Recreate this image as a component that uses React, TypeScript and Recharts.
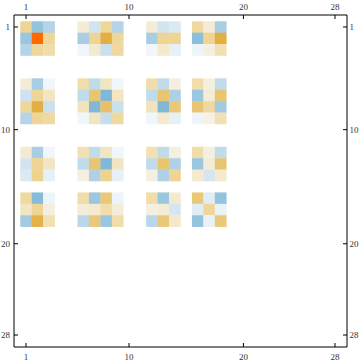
import { ScatterChart, Scatter, XAxis, YAxis } from "recharts";

// matrix rows / columns that hold values (1-based, as on the axes)
const ROW_INDEX = [1, 2, 3, 6, 7, 8, 9, 12, 13, 14, 16, 17, 18];
const COL_INDEX = [1, 2, 3, 6, 7, 8, 9, 12, 13, 14, 16, 17, 18];
const TICKS = [1, 10, 20, 28];

// values, one list per block row
const ROWS_A = [
  [0.3, -0.45, -0.3, 0.1, -0.15, 0.27, -0.3, 0.1, -0.15, -0.12, 0.25, 0.1, -0.35],
  [-0.42, 1.0, 0.27, -0.35, 0.3, 0.55, 0.27, -0.35, 0.3, 0.3, -0.5, 0.3, 0.55],
  [-0.3, 0.27, 0.22, -0.04, 0.13, -0.2, 0.25, -0.04, 0.13, -0.08, -0.05, 0.08, 0.2],
];
const ROWS_B = [
  [0.1, -0.35, -0.04, 0.22, -0.25, 0.15, -0.04, 0.22, -0.25, 0.08, 0.22, 0.08, -0.25],
  [-0.17, 0.28, 0.15, -0.25, 0.42, -0.55, 0.15, -0.25, 0.42, -0.33, -0.42, 0.1, 0.42],
  [0.27, 0.55, -0.2, 0.17, -0.55, 0.45, -0.2, 0.17, -0.55, 0.4, 0.42, 0.25, -0.38],
  [-0.3, 0.28, 0.25, -0.04, 0.15, -0.22, 0.25, -0.04, 0.12, -0.08, -0.05, 0.07, 0.2],
];
const ROWS_C = [
  [0.12, -0.35, -0.04, 0.2, -0.25, 0.15, -0.04, 0.2, -0.25, 0.08, 0.22, 0.08, -0.25],
  [-0.15, 0.3, 0.15, -0.25, 0.42, -0.55, 0.15, -0.25, 0.42, -0.32, -0.42, 0.1, 0.42],
  [-0.12, 0.32, -0.08, 0.08, -0.32, 0.32, -0.08, 0.08, -0.32, 0.3, 0.12, -0.14, 0.12],
];
const ROWS_D = [
  [0.25, -0.52, -0.05, 0.22, -0.42, 0.4, -0.05, 0.22, -0.42, 0.12, 0.4, -0.1, -0.45],
  [0.15, 0.3, 0.08, 0.1, 0.12, 0.22, 0.1, 0.08, 0.1, -0.14, -0.1, 0.27, -0.07],
  [-0.38, 0.53, 0.2, -0.28, 0.4, -0.42, 0.22, -0.28, 0.4, 0.13, -0.45, -0.07, 0.4],
];

const POS_STOPS: [number, string][] = [
  [0, "#ffffff"], [0.08, "#f4efe0"], [0.15, "#f2e6c2"], [0.25, "#efd9a0"],
  [0.32, "#edd390"], [0.42, "#e8c572"], [0.55, "#e3ae42"], [1, "#ff6a00"],
];
const NEG_STOPS: [number, string][] = [
  [0, "#ffffff"], [0.04, "#f0f6fb"], [0.08, "#e6f0f7"], [0.15, "#d2e4f0"],
  [0.25, "#c0dbea"], [0.35, "#a9cde3"], [0.45, "#94c3dd"], [0.55, "#82b8d6"],
];

function hex(c: string) {
  return [1, 3, 5].map((i) => parseInt(c.slice(i, i + 2), 16));
}
function colorOf(v: number) {
  const stops = v >= 0 ? POS_STOPS : NEG_STOPS;
  const a = Math.abs(v);
  for (let i = 1; i < stops.length; i++) {
    if (a <= stops[i][0] || i === stops.length - 1) {
      const [t0, c0] = stops[i - 1];
      const [t1, c1] = stops[i];
      const t = Math.min(1, Math.max(0, (a - t0) / (t1 - t0)));
      const p = hex(c0), q = hex(c1);
      return `rgb(${p.map((x, k) => Math.round(x + (q[k] - x) * t)).join(",")})`;
    }
  }
  return "#fff";
}

const ALL_ROWS = [...ROWS_A, ...ROWS_B, ...ROWS_C, ...ROWS_D];
const data = ALL_ROWS.flatMap((vals, r) =>
  vals.map((v, c) => ({ col: COL_INDEX[c], row: ROW_INDEX[r], v }))
);

const W = 360, H = 363;
const LEFT = 14, RIGHT = 13, TOP = 15, BOTTOM = 16;
const PAD = 0.55;
const DOMAIN: [number, number] = [0.5 - PAD, 28.5 + PAD];
const CELL_W = (W - LEFT - RIGHT) / (DOMAIN[1] - DOMAIN[0]);
const CELL_H = (H - TOP - BOTTOM) / (DOMAIN[1] - DOMAIN[0]);

const FONT = { fontFamily: "Liberation Serif, serif", fontSize: 9, fill: "#333" };

const Cell = (p: any) => (
  <rect x={p.cx - CELL_W / 2} y={p.cy - CELL_H / 2} width={CELL_W + 0.3} height={CELL_H + 0.3}
    fill={colorOf(p.payload.v)} />
);

const tick = (side: "top" | "bottom" | "left" | "right") => (p: any) => {
  const { x, y } = p;
  const v = p.payload.value;
  if (side === "top")
    return <g><line x1={x} x2={x} y1={y} y2={y + 4} stroke="#000" />
      <text x={x} y={y - 5.5} textAnchor="middle" {...FONT}>{v}</text></g>;
  if (side === "bottom")
    return <g><line x1={x} x2={x} y1={y} y2={y - 4} stroke="#000" />
      <text x={x} y={y + 13} textAnchor="middle" {...FONT}>{v}</text></g>;
  if (side === "left")
    return <g><line x1={x} x2={x + 4} y1={y} y2={y} stroke="#000" />
      <text x={x - 4} y={y + 3} textAnchor="end" {...FONT}>{v}</text></g>;
  return <g><line x1={x} x2={x - 4} y1={y} y2={y} stroke="#000" />
    <text x={x + 2.5} y={y + 3} textAnchor="start" {...FONT}>{v}</text></g>;
};

export default function App() {
  const axisProps = {
    type: "number" as const, domain: DOMAIN, ticks: TICKS, interval: 0 as const,
    allowDataOverflow: true, tickSize: 0, tickMargin: 0, axisLine: { stroke: "#000" },
  };
  return (
    <div style={{ position: "absolute", left: 0, top: 0, background: "#fff" }}>
      <ScatterChart width={W} height={H} margin={{ top: 0, right: 0, bottom: 0, left: 0 }}>
        <XAxis xAxisId="b" orientation="bottom" dataKey="col" height={BOTTOM} {...axisProps} tick={tick("bottom")} />
        <XAxis xAxisId="t" orientation="top" dataKey="col" height={TOP} {...axisProps} tick={tick("top")} />
        <YAxis yAxisId="l" orientation="left" dataKey="row" width={LEFT} reversed {...axisProps} tick={tick("left")} />
        <YAxis yAxisId="r" orientation="right" dataKey="row" width={RIGHT} reversed {...axisProps} tick={tick("right")} />
        <Scatter data={data} xAxisId="b" yAxisId="l" shape={Cell} isAnimationActive={false} />
      </ScatterChart>
    </div>
  );
}
